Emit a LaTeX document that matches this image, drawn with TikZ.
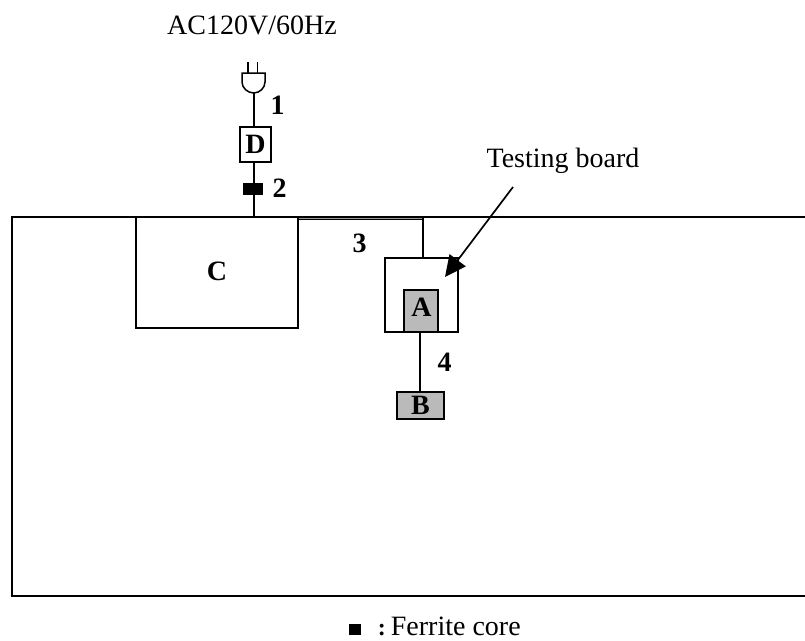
\documentclass[tikz,border=0pt]{standalone}
\usepackage{fontspec}
\setmainfont{Liberation Serif}
\usetikzlibrary{positioning,calc,arrows.meta}
\tikzset{%
  every unit/.style={
    draw,
    line width=1.5pt,
    inner sep=0pt
  },
  unit gray/.style={
    fill=black!27
  },
  unit label/.style={
    font=\fontsize{28}{30}\selectfont\bfseries,
    inner sep=0pt
  },
  plain label/.style={
    font=\fontsize{28}{30}\selectfont,
    inner sep=0pt
  },
}

\begin{document}
\begin{tikzpicture}[x=1pt, y=-1pt, line width=1.7pt]
        \useasboundingbox (0,0) rectangle (805,640);
        \node [plain label, anchor=base] (supply) at (252,34) {AC120V/60Hz};
        \node [plain label, anchor=base] (testing) at (563,167) {Testing board};

        \node [every unit, minimum width=795pt, minimum height=379pt] (room) at (409.5,406.5) {};
        \node [every unit, minimum width=162pt, minimum height=111pt] (C) at (217,272.5) {};
        \node [every unit, minimum width=73pt, minimum height=74pt] (board) at (421.5,295) {};
        \node [every unit, unit gray, minimum width=34pt, minimum height=42pt] (A) at (421,311) {};
        \node [every unit, unit gray, minimum width=47pt, minimum height=27pt] (B) at (420.5,405.5) {};
        \node [every unit, minimum width=31pt, minimum height=35pt] (D) at (255.5,144.5) {};
        \node [draw=none, fill=black, minimum width=20pt, minimum height=12pt, inner sep=0pt] (core) at (253,189) {};

        \foreach \n/\l/\x/\y in {C/C/217/271, A/A/421.5/307.5, B/B/420.5/405.5, D/D/255.5/144}
            \node [unit label] (text-\n) at (\x,\y) {\l};
        \foreach \l/\x/\y in {1/277.5/105, 2/279.5/188, 3/359.5/243, 4/444.5/362.5}
            \node [unit label] (cable-\l) at (\x,\y) {\l};

        % plug
        \coordinate (plug-l) at (242,73);
        \coordinate (plug-r) at (265,73);
        \coordinate (plug-b) at (253.7,93);
        \draw [line width=1.5pt] (plug-l) -- (plug-r) -- ++(0,9) .. controls +(0,6) and +(6,0) .. (plug-b)
              .. controls +(-6,0) and +(0,6) .. ($(plug-l)+(0,9)$) -- cycle;
        \draw [line width=1.2pt] (248,62) -- (248,73);
        \draw [line width=1.2pt] (257.7,62) -- (257.7,73);

        \draw (plug-b) -- (plug-b |- D.north);
        \draw (plug-b |- D.south) -- (plug-b |- C.north);
        \draw [double=black!40, double distance=0.9pt, line width=0.9pt] (C.north east) ++(0,2.5) -- ++(124,0) coordinate (bend);
        \draw (bend) ++(0,-1.5) -- (bend |- board.north);
        \draw (A.south -| B.north) ++(-0.7,0) -- ($(B.north)+(-0.7,0)$);
        \coordinate (arrow-start) at (513,187);
        \coordinate (arrow-end) at (445,277);
        \draw [-{Triangle[length=21pt,width=20pt]}] (arrow-start) -- (arrow-end);

        \node [fill=black, minimum width=12pt, minimum height=11pt, inner sep=0pt] (legend-core) at (355,629.5) {};
        \node [plain label, anchor=base west] (legend) at (377,635) {\makebox[13pt][l]{\fontsize{24}{26}\selectfont\bfseries:}Ferrite core};
\end{tikzpicture}
\end{document}
